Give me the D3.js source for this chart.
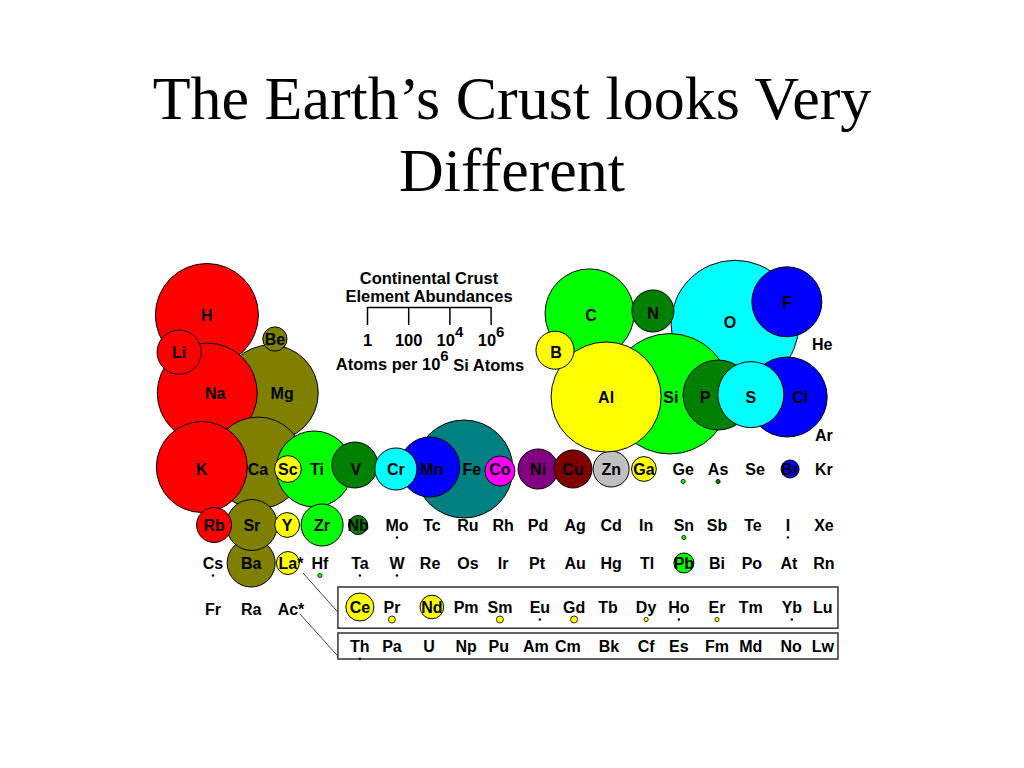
<!DOCTYPE html>
<html><head><meta charset="utf-8">
<script src="https://cdn.jsdelivr.net/npm/d3@7"></script>
<style>body{margin:0;background:#fff}svg{display:block}</style>
</head><body>
<script>
// ---------- DATA ----------
// [symbol, group, column (grid units), row (grid units), abundance in atoms per 10^6 Si atoms (null = below 1)]
const period1 = [["H",1,0.83,0.15,1.0e5],["He",18,17.92,0.88,null]];
const period2 = [["Li",1,0.06,1.08,140],["Be",2,2.72,0.75,15],["B",13,10.53,1.08,70],["C",14,11.5,0.15,2.1e4],
  ["N",15,13.22,0.1,110],["O",16,15.36,0.33,1.6e6],["F",17,16.94,-0.18,2500]];
const period3 = [["Na",1,1.06,2.1,7.1e4],["Mg",2,2.92,2.1,4.6e4],["Al",13,11.92,2.2,2.2e5],["Si",14,13.72,2.2,7.0e5],
  ["P",15,14.67,2.2,2500],["S",16,15.94,2.2,1600],["Cl",17,17.31,2.2,7600],["Ar",18,17.97,3.15,null]];
const period4 = [["K",1,0.69,4,2.6e4],["Ca",2,2.25,4,2.9e4],["Sc",3,3.08,4,20],["Ti",4,3.89,4,4900],["V",5,4.97,4,170],
  ["Cr",6,6.08,4,110],["Mn",7,7.08,4,820],["Fe",8,8.19,4,5.7e4],["Co",9,8.97,4,29],["Ni",10,10.03,4,88],
  ["Cu",11,11.0,4,70],["Zn",12,12.06,4,56],["Ga",13,12.97,4,16],["Ge",14,14.06,4,1.6],["As",15,15.03,4,1.6],
  ["Se",16,16.06,4,null],["Br",17,17.03,4,7.5],["Kr",18,17.97,4,null]];
const period5 = [["Rb",1,1.03,5.4,50],["Sr",2,2.08,5.4,300],["Y",3,3.06,5.4,16],["Zr",4,4.03,5.4,110],["Nb",5,5.03,5.4,8.4],
  ["Mo",6,6.11,5.4,1.25],["Tc",7,7.08,5.4,null],["Ru",8,8.08,5.4,null],["Rh",9,9.06,5.4,null],["Pd",10,10.03,5.4,null],
  ["Ag",11,11.06,5.4,null],["Cd",12,12.06,5.4,null],["In",13,13.03,5.4,null],["Sn",14,14.08,5.4,1.6],
  ["Sb",15,15.0,5.4,null],["Te",16,16.0,5.4,null],["I",17,16.97,5.4,1.25],["Xe",18,17.97,5.4,null]];
const period6 = [["Cs",1,1.0,6.35,1.25],["Ba",2,2.06,6.35,215],["La",3,3.08,6.35,13],["Hf",4,3.97,6.35,1.6],
  ["Ta",5,5.08,6.35,1.25],["W",6,6.11,6.35,1.25],["Re",7,7.03,6.35,null],["Os",8,8.08,6.35,null],["Ir",9,9.06,6.35,null],
  ["Pt",10,10.0,6.35,null],["Au",11,11.06,6.35,null],["Hg",12,12.06,6.35,null],["Tl",13,13.06,6.35,null],
  ["Pb",14,14.08,6.35,9.4],["Bi",15,15.0,6.35,null],["Po",16,15.97,6.35,null],["At",17,17.0,6.35,null],["Rn",18,17.97,6.35,null]];
const period7 = [["Fr",1,1.0,7.5,null],["Ra",2,2.06,7.5,null],["Ac",3,3.08,7.5,null]];
const lanthanides = [["Ce",5.08,23],["Pr",5.97,2.2],["Nd",7.08,14],["Pm",8.03,null],["Sm",8.97,2.2],["Eu",10.08,1.25],
  ["Gd",11.03,2.2],["Tb",11.97,null],["Dy",13.03,1.6],["Ho",13.94,1.25],["Er",15.0,1.6],["Tm",15.94,null],
  ["Yb",17.08,1.25],["Lu",17.94,null]];
const actinides = [["Th",5.08,1.25],["Pa",5.97,null],["U",7.0,null],["Np",8.03,null],["Pu",8.94,null],["Am",9.97,null],
  ["Cm",10.86,null],["Bk",12.0,null],["Cf",13.03,null],["Es",13.94,null],["Fm",15.0,null],["Md",15.94,null],
  ["No",17.06,null],["Lw",17.94,null]];
const lanthanideRow = 7.45, actinideRow = 8.43;
const starred = ["La","Ac"];
// circle centre offsets from label (grid units) where the bubbles were nudged apart
const circleShift = [["Na",-0.22,0],["Mg",-0.33,0],["Ca",0,-0.15],["K",0,-0.05],["Ti",-0.08,0],["V",-0.03,-0.1],
  ["Mn",-0.06,-0.05],["Fe",-0.22,0],["Co",0,0.05],["C",-0.04,-0.04],["N",0,-0.05],["B",-0.03,-0.05],
  ["Si",-0.03,-0.08],["P",0.36,-0.05],["S",0,-0.06],["Cl",-0.36,0],["O",0.14,0.05]];
// stacking order of the bubbles (first = bottom)
const zOrder = ["H","Mg","Na","Li","Be","Ca","K","Ti","Sc","V","Fe","Mn","Cr","Co","Ni","Cu","Zn","Ga",
  "Ba","Sr","Rb","Y","Zr","Nb","La","O","C","N","Si","Al","B","P","Cl","S","F","Br","Pb","Ce","Nd"];
// f-block boxes and connector lines (grid units)
const boxCols = [4.47, 18.36];
const lanthanideBoxRows = [6.95, 7.98];
const actinideBoxRows = [8.1, 8.75];
const connectors = [[[3.5,6.6],[4.47,7.58]],[[3.42,7.63],[4.47,8.68]]];
// legend
const legendTicks = [1, 100, 1e4, 1e6];
const legendTickBase = ["1","100","10","10"];
const legendTickExp = ["","","4","6"];
const titleLines = ["The Earth\u2019s Crust looks Very","Different"];
const legendTitle = ["Continental Crust","Element Abundances"];

// ---------- SCALES ----------
const W = 1024, H = 768;
const x = d3.scaleLinear().domain([1,18]).range([213,825]);
const y = d3.scaleLinear().domain([4,6]).range([469,549]);
const rad = d3.scaleLinear().domain([0,6]).range([0,61.8]);
const groupColor = d3.scaleOrdinal().domain(d3.range(1,13))
  .range(["#ff0000","#808000","#ffff00","#00ff00","#008000","#00ffff","#0000ff","#008080","#ff00ff","#800080","#800000","#c0c0c0"]);
const colorOf = g => groupColor(g > 12 ? g - 10 : g);

const elements = [].concat(period1,period2,period3,period4,period5,period6,period7)
  .map(d => ({sym:d[0], group:d[1], col:d[2], row:d[3], a:d[4]}))
  .concat(lanthanides.map(d => ({sym:d[0], group:3, col:d[1], row:lanthanideRow, a:d[2]})))
  .concat(actinides.map(d => ({sym:d[0], group:3, col:d[1], row:actinideRow, a:d[2]})));
const shift = new Map(circleShift.map(d => [d[0], [d[1], d[2]]]));

const svg = d3.select("body").append("svg").attr("width",W).attr("height",H);

// ---------- TITLE ----------
svg.append("g").selectAll("text").data(titleLines).join("text")
  .attr("x", 512).attr("y", (d,i) => 119 + i*72)
  .attr("text-anchor","middle")
  .attr("font-family","'Liberation Serif','Times New Roman',serif")
  .attr("font-size", 62).attr("fill","#000").text(d => d);

// ---------- BOXES & CONNECTORS ----------
const boxG = svg.append("g");
[lanthanideBoxRows, actinideBoxRows].forEach(rows => {
  boxG.append("rect").attr("x", x(boxCols[0])).attr("y", y(rows[0]))
    .attr("width", x(boxCols[1]) - x(boxCols[0])).attr("height", y(rows[1]) - y(rows[0]))
    .attr("fill","none").attr("stroke","#333").attr("stroke-width",1.5);
});
boxG.selectAll("line").data(connectors).join("line")
  .attr("x1", d => x(d[0][0])).attr("y1", d => y(d[0][1]))
  .attr("x2", d => x(d[1][0])).attr("y2", d => y(d[1][1]))
  .attr("stroke","#444").attr("stroke-width",1);

// ---------- BUBBLES ----------
const withCircle = elements.filter(d => d.a != null && d.a >= 1).map(d => {
  const s = shift.get(d.sym) || [0,0];
  const r = rad(Math.log10(d.a));
  const small = r < 5;
  return {...d, r, cx: x(d.col + s[0]), cy: small ? y(d.row) + 12.5 : y(d.row + s[1]), small};
});
const zi = s => { const i = zOrder.indexOf(s); return i < 0 ? -1 : i; };
withCircle.sort((a,b) => zi(a.sym) - zi(b.sym));
svg.append("g").selectAll("circle").data(withCircle).join("circle")
  .attr("cx", d => d.cx).attr("cy", d => d.cy).attr("r", d => Math.max(d.r, 1.2))
  .attr("fill", d => d.r < 1.6 ? "#000" : colorOf(d.group))
  .attr("stroke", d => d.r < 1.6 ? "none" : "#000")
  .attr("stroke-width", d => d.small ? 0.8 : 1);

// ---------- LABELS ----------
const labelFont = "'Liberation Sans',Arial,sans-serif";
const labels = svg.append("g").selectAll("text").data(elements).join("text")
  .attr("x", d => x(d.col)).attr("y", d => y(d.row)).attr("dy","0.36em")
  .attr("text-anchor","middle").attr("font-family",labelFont)
  .attr("font-weight","bold").attr("font-size",16).attr("fill","#000")
  .text(d => d.sym);
labels.filter(d => starred.includes(d.sym)).each(function(d){
  const w = this.getComputedTextLength();
  svg.append("text").attr("x", x(d.col) + w/2).attr("y", y(d.row)).attr("dy","0.36em")
    .attr("font-family",labelFont).attr("font-weight","bold").attr("font-size",16).text("*");
});

// ---------- LEGEND ----------
const lg = svg.append("g").attr("font-family",labelFont).attr("font-weight","bold").attr("fill","#000");
lg.selectAll("text.t").data(legendTitle).join("text").attr("class","t")
  .attr("x", 429).attr("y",(d,i) => 284 + i*18).attr("text-anchor","middle")
  .attr("font-size",16.5).text(d => d);
const legendScale = d3.scaleLog().domain([1,1e6]).range([367, 367 + 2*rad(6)]);
const axis = d3.axisBottom(legendScale).tickValues(legendTicks).tickSize(18).tickSizeOuter(0)
  .tickPadding(9).tickFormat(() => "");
const ag = svg.append("g").attr("transform","translate(0,307)").call(axis);
ag.select(".domain").attr("stroke","#000").attr("stroke-width",1.5);
ag.selectAll(".tick line").attr("stroke","#000").attr("stroke-width",1.5);
ag.selectAll(".tick text").each(function(d,i){
  const t = d3.select(this).attr("font-family",labelFont).attr("font-weight","bold")
    .attr("font-size",16.5).attr("fill","#000").text(null);
  t.append("tspan").text(legendTickBase[i]);
  if (legendTickExp[i]) t.append("tspan").attr("dy","-0.55em").attr("font-size",15).text(legendTickExp[i]);
});
const at = lg.append("text").attr("x",430).attr("y",370).attr("text-anchor","middle").attr("font-size",16.5);
at.append("tspan").text("Atoms per 10");
at.append("tspan").attr("dy","-0.6em").attr("font-size",15).text("6");
at.append("tspan").attr("dy","0.6em").text(" Si Atoms");
</script>
</body></html>
